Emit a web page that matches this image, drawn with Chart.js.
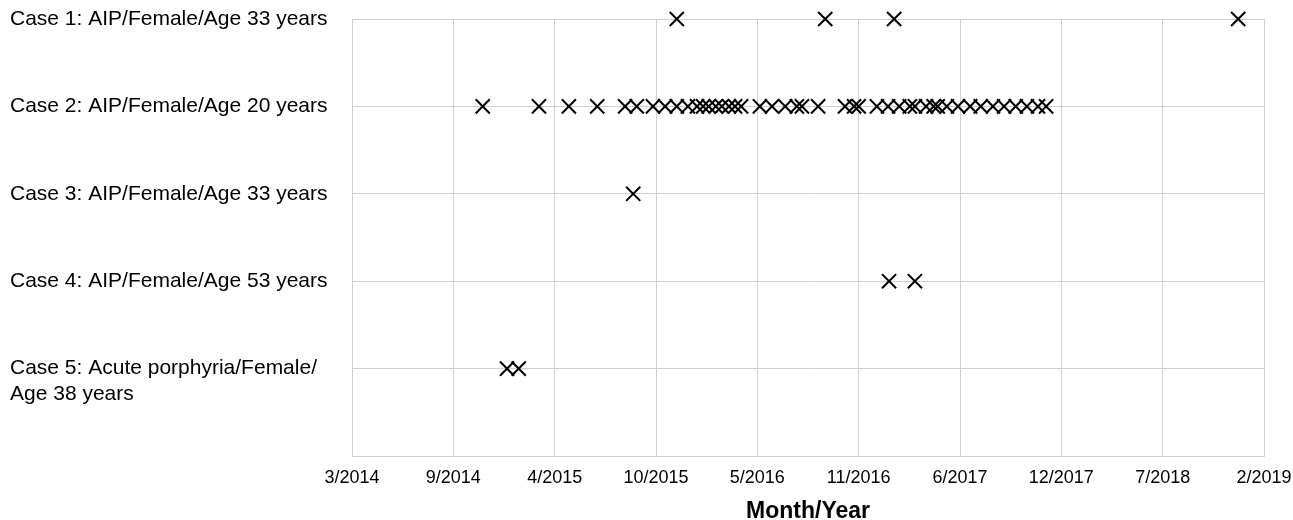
<!DOCTYPE html>
<html>
<head>
<meta charset="utf-8">
<script src="https://cdn.jsdelivr.net/npm/chart.js@4"></script>
<style>
  body { margin: 0; background: #fff; }
  canvas { display: block; }
</style>
</head>
<body>
<canvas id="myChart" width="1293" height="520"></canvas>
<script>
// row labels, top to bottom
const caseLabels = [
    "Case 1: AIP/Female/Age 33 years",
    "Case 2: AIP/Female/Age 20 years",
    "Case 3: AIP/Female/Age 33 years",
    "Case 4: AIP/Female/Age 53 years",
    ["", "Case 5: Acute porphyria/Female/", "Age 38 years"]
];

// event dates per case
const case1Dates = ["2015-12-02", "2016-09-20", "2017-02-03", "2018-12-14"];
const case2Dates = [
    "2014-11-14", "2015-03-05", "2015-05-03", "2015-06-28", "2015-08-22", "2015-09-14",
    "2015-10-16", "2015-11-09", "2015-12-02", "2015-12-24", "2016-01-11", "2016-01-23",
    "2016-02-03", "2016-02-17", "2016-02-29", "2016-03-14", "2016-03-26", "2016-04-07",
    "2016-05-14", "2016-06-07", "2016-07-03", "2016-07-26", "2016-08-05", "2016-09-06",
    "2016-10-29", "2016-11-16", "2016-11-25", "2016-12-31", "2017-01-22", "2017-02-13",
    "2017-03-06", "2017-03-16", "2017-04-07", "2017-04-22", "2017-04-30", "2017-05-18",
    "2017-06-09", "2017-07-03", "2017-07-24", "2017-08-17", "2017-09-08", "2017-10-01",
    "2017-10-23", "2017-11-14", "2017-11-30"
];
const case3Dates = ["2015-09-07"];
const case4Dates = ["2017-01-24", "2017-03-16"];
const case5Dates = ["2015-01-01", "2015-01-24"];

// x axis: days from 3/1/2014, a tick every 200 days
const axisStart = "2014-03-01";
const axisDays = 1800;
const tickStep = 200;

const allCases = [case1Dates, case2Dates, case3Dates, case4Dates, case5Dates];

function toUtc(s) {
    const p = s.split("-");
    return Date.UTC(+p[0], +p[1] - 1, +p[2]);
}
const startMs = toUtc(axisStart);
function dayOffset(s) {
    return Math.round((toUtc(s) - startMs) / 86400000);
}
function monthYear(offset) {
    const d = new Date(startMs + offset * 86400000);
    return (d.getUTCMonth() + 1) + "/" + d.getUTCFullYear();
}

const datasets = allCases.map(function (dates, i) {
    return {
        label: "Case " + (i + 1),
        data: dates.map(function (d) { return { x: dayOffset(d), y: 5 - i }; }),
        pointStyle: "crossRot",
        pointRadius: 10,
        pointBorderWidth: 2,
        borderColor: "#000",
        backgroundColor: "#000",
        showLine: false,
        clip: false
    };
});

const gridColor = "#d0d0d0";

new Chart(document.getElementById("myChart").getContext("2d"), {
    type: "scatter",
    data: { datasets: datasets },
    options: {
        responsive: false,
        animation: false,
        layout: { padding: { top: 19, left: 10, right: 29, bottom: 0 } },
        plugins: {
            legend: { display: false },
            tooltip: { enabled: false }
        },
        scales: {
            x: {
                type: "linear",
                min: 0,
                max: axisDays,
                ticks: {
                    stepSize: tickStep,
                    color: "#000",
                    padding: 11,
                    maxRotation: 0,
                    font: { family: "Liberation Sans, Arial, sans-serif", size: 18 },
                    callback: function (v) { return monthYear(v); }
                },
                grid: { color: gridColor, drawTicks: false },
                border: { color: gridColor },
                title: {
                    display: true,
                    text: "Month/Year",
                    color: "#000",
                    padding: 0,
                    font: { family: "Liberation Sans, Arial, sans-serif", size: 23, weight: "bold", lineHeight: 0.75 }
                },
                afterFit: function (scale) {
                    scale.height = 64;
                    scale.paddingRight = 0;
                }
            },
            y: {
                type: "linear",
                min: 0,
                max: 5,
                ticks: {
                    stepSize: 1,
                    color: "#000",
                    crossAlign: "far",
                    font: { family: "Liberation Sans, Arial, sans-serif", size: 21 },
                    callback: function (v) {
                        if (v < 1) return "";
                        return caseLabels[5 - v];
                    }
                },
                grid: { color: gridColor, drawTicks: false },
                border: { color: gridColor },
                afterFit: function (scale) { scale.width = 342; }
            }
        }
    }
});
</script>
</body>
</html>
